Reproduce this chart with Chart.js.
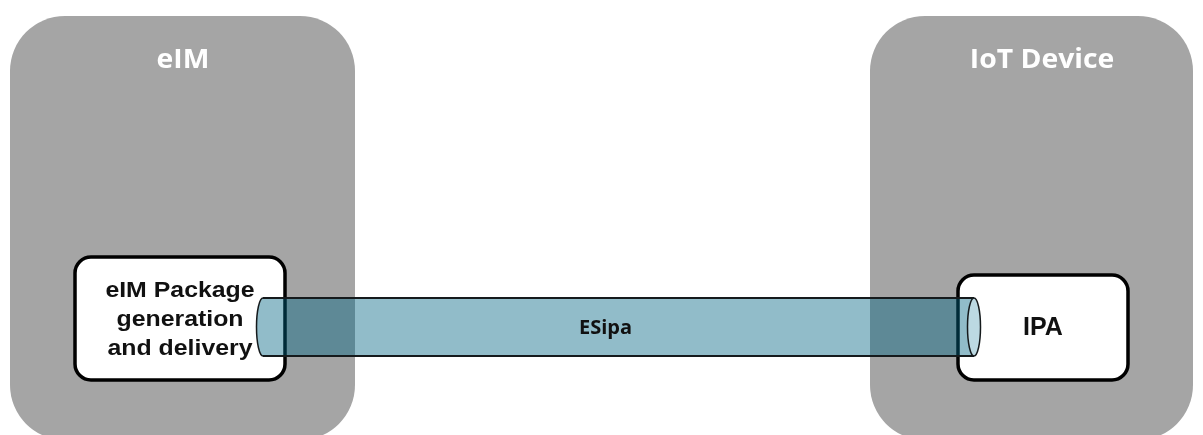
<!DOCTYPE html>
<html>
<head>
<meta charset="utf-8">
<script src="https://cdn.jsdelivr.net/npm/chart.js@4"></script>
<style>
  html, body { margin: 0; padding: 0; background: #fff; }
  #wrap { width: 1203px; height: 435px; }
</style>
</head>
<body>
<div id="wrap"><canvas id="diagram" width="1203" height="435"></canvas></div>
<script>
// diagram data (in diagram units, 1 unit = 1 px of the reference)
const groupNames = ["eIM", "IoT Device"];
const groupLeft = [10, 870];
const groupRight = [355, 1193];
const groupTop = [16, 16];
const groupBottom = [440, 440];
const groupTitleX = [183, 1042];

const nodeLines = [["eIM Package", "generation", "and delivery"], ["IPA"]];
const nodeLeft = [75, 958];
const nodeRight = [285, 1128];
const nodeTop = [257, 275];
const nodeBottom = [380, 380];

const linkName = "ESipa";
const linkFrom = 263;
const linkTo = 974;
const linkTop = 298;
const linkBottom = 356;

// styles
const greyFill = "#a5a5a5";
const tubeFill = "rgba(0, 100, 130, 0.43)";
const capFill = "#bcd9e2";

function stretchText(ctx, text, x, y, font, color, sx) {
    ctx.save();
    ctx.font = font;
    ctx.fillStyle = color;
    ctx.textAlign = "center";
    ctx.textBaseline = "middle";
    ctx.translate(x, y);
    ctx.scale(sx, 1);
    ctx.fillText(text, 0, 0);
    ctx.restore();
}

const diagramPlugin = {
    id: "diagram",
    afterDatasetsDraw(chart) {
        const ctx = chart.ctx;
        const xs = chart.scales.x;
        const ys = chart.scales.y;
        const px = (v) => xs.getPixelForValue(v);
        const py = (v) => ys.getPixelForValue(v);

        // grey containers
        groupNames.forEach((name, i) => {
            const x0 = px(groupLeft[i]), x1 = px(groupRight[i]);
            const y0 = py(groupTop[i]), y1 = py(groupBottom[i]);
            ctx.save();
            ctx.fillStyle = greyFill;
            ctx.beginPath();
            ctx.roundRect(x0, y0, x1 - x0, y1 - y0, 55);
            ctx.fill();
            ctx.restore();
            stretchText(ctx, name, px(groupTitleX[i]), y0 + 45, "bold 26px 'Open Sans'", "#ffffff", 1.09);
        });

        // white nodes
        nodeLines.forEach((lines, i) => {
            const x0 = px(nodeLeft[i]), x1 = px(nodeRight[i]);
            const y0 = py(nodeTop[i]), y1 = py(nodeBottom[i]);
            ctx.save();
            ctx.fillStyle = "#ffffff";
            ctx.strokeStyle = "#000000";
            ctx.lineWidth = 3.5;
            ctx.beginPath();
            ctx.roundRect(x0, y0, x1 - x0, y1 - y0, 16);
            ctx.fill();
            ctx.stroke();
            ctx.restore();
            const cx = (x0 + x1) / 2;
            const cy = (y0 + y1) / 2 + 1;
            const lh = 29;
            lines.forEach((t, k) => {
                const y = cy + (k - (lines.length - 1) / 2) * lh;
                const size = lines.length > 1 ? 22 : 25;
                stretchText(ctx, t, cx, y, "bold " + size + "px 'Liberation Sans'", "#111111", lines.length > 1 ? 1.13 : 1.0);
            });
        });

        // ESipa tube
        const tx0 = px(linkFrom), tx1 = px(linkTo);
        const ty0 = py(linkTop), ty1 = py(linkBottom);
        const tm = (ty0 + ty1) / 2, ry = (ty1 - ty0) / 2, rx = 6.5;
        ctx.save();
        ctx.beginPath();
        ctx.moveTo(tx1, ty0);
        ctx.lineTo(tx0, ty0);
        ctx.ellipse(tx0, tm, rx, ry, 0, -Math.PI / 2, Math.PI / 2, true);
        ctx.lineTo(tx1, ty1);
        ctx.closePath();
        ctx.fillStyle = tubeFill;
        ctx.fill();
        ctx.strokeStyle = "#151a1c";
        ctx.lineWidth = 2;
        ctx.beginPath();
        ctx.moveTo(tx0, ty0);
        ctx.lineTo(tx1, ty0);
        ctx.moveTo(tx0, ty1);
        ctx.lineTo(tx1, ty1);
        ctx.stroke();
        ctx.lineWidth = 1.5;
        ctx.beginPath();
        ctx.ellipse(tx0, tm, rx, ry, 0, -Math.PI / 2, Math.PI / 2, true);
        ctx.stroke();
        // end cap
        ctx.beginPath();
        ctx.ellipse(tx1, tm, rx, ry, 0, 0, Math.PI * 2);
        ctx.fillStyle = capFill;
        ctx.fill();
        ctx.stroke();
        ctx.restore();

        stretchText(ctx, linkName, (tx0 + tx1) / 2 - 13, tm + 1, "bold 20px 'Open Sans'", "#111111", 1.0);
    }
};

const config = {
    type: "scatter",
    data: { datasets: [] },
    options: {
        responsive: false,
        animation: false,
        layout: { padding: 0 },
        plugins: {
            legend: { display: false },
            tooltip: { enabled: false },
        },
        scales: {
            x: { type: "linear", min: 0, max: 1203, display: false },
            y: { type: "linear", min: 0, max: 435, reverse: true, display: false },
        },
    },
    plugins: [diagramPlugin],
};

const myDiagram = new Chart(document.getElementById("diagram"), config);
</script>
</body>
</html>
